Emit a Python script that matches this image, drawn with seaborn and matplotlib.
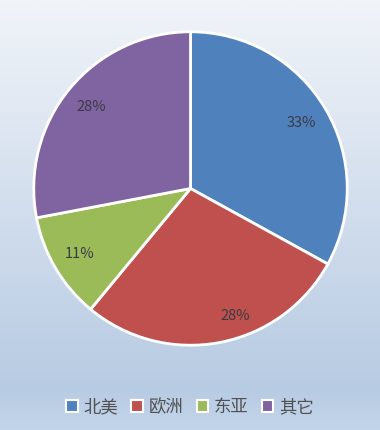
import numpy as np
import matplotlib
matplotlib.use("Agg")
import matplotlib.pyplot as plt
import seaborn as sns
from matplotlib.colors import LinearSegmentedColormap

sns.set_theme(style="white")
plt.rcParams['font.family'] = ['Noto Sans CJK SC', 'DejaVu Sans']

categories = ["北美", "欧洲", "东亚", "其它"]
values = [33, 28, 11, 28]
colors = ["#4F81BD", "#C0504D", "#9BBB59", "#8064A2"]

fig = plt.figure(figsize=(3.8, 4.3), dpi=100)

# background gradient
bg = fig.add_axes([0, 0, 1, 1], zorder=-10)
cmap = LinearSegmentedColormap.from_list(
    "bg", [(0.0, "#F1F4F9"), (0.905, "#B7CBE3"), (1.0, "#C3D5EA")])
grad = np.linspace(0, 1, 256).reshape(-1, 1)
bg.imshow(grad, aspect="auto", cmap=cmap, extent=[0, 1, 0, 1], origin="upper")
bg.set_axis_off()

ax = fig.add_axes([33 / 380, (430 - 346) / 430, 315 / 380, 315 / 430])
wedges, texts, autotexts = ax.pie(
    values, colors=colors, startangle=90, counterclock=False,
    autopct=lambda p: f"{p:.0f}%", pctdistance=0.82,
    wedgeprops=dict(edgecolor="white", linewidth=2),
    textprops=dict(color="#3A3A44", fontsize=10.5))

# the 欧洲 label sits a bit off-centre (towards the blue slice) in the original
w = wedges[1]
ang = np.deg2rad((w.theta1 + w.theta2) / 2 + 8.5)
autotexts[1].set_position((0.86 * np.cos(ang), 0.86 * np.sin(ang)))

ax.set_xlim(-1.005, 1.005)
ax.set_ylim(-1.005, 1.005)
ax.set_aspect("equal")
ax.set_axis_off()

handles = [plt.Rectangle((0, 0), 1, 1, facecolor=c, edgecolor="white", linewidth=1.5)
           for c in colors]
fig.legend(handles, categories, loc="center", bbox_to_anchor=(0.5, (430 - 407) / 430),
           ncol=4, frameon=False, fontsize=12.5, handlelength=0.65, handleheight=0.65,
           handletextpad=0.35, columnspacing=0.75, labelcolor="#505050")

fig.savefig("out.png", dpi=100)
